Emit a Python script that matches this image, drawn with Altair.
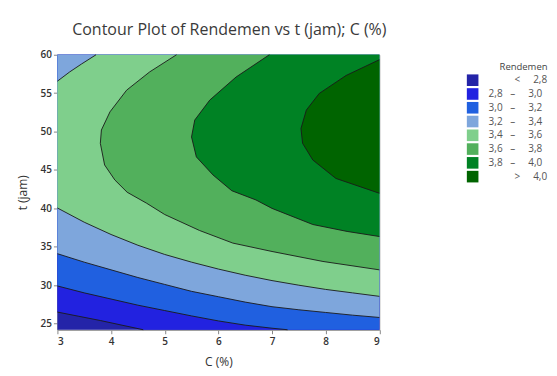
import altair as alt
import pandas as pd

# ---------------- data ----------------
C_MIN, C_MAX = 3.0, 9.0
T_MIN, T_MAX = 24.2, 60.0

NB = "\u00a0"
ZW = "\u200b"
BANDS = [
    ZW + NB * 10 + "<" + NB * 5 + "2,8",
    "2,8" + NB * 3 + "\u2013" + NB * 5 + "3,0",
    "3,0" + NB * 3 + "\u2013" + NB * 5 + "3,2",
    "3,2" + NB * 3 + "\u2013" + NB * 5 + "3,4",
    "3,4" + NB * 3 + "\u2013" + NB * 5 + "3,6",
    "3,6" + NB * 3 + "\u2013" + NB * 5 + "3,8",
    "3,8" + NB * 3 + "\u2013" + NB * 5 + "4,0",
    ZW + NB * 10 + ">" + NB * 5 + "4,0",
]
COLORS = ["#2424a8", "#2222e0", "#2060e0", "#7ea6dc",
          "#7fcf8c", "#52b05c", "#008224", "#006400"]

# contour curves (C, t), listed with increasing t
C_BG = [3.0, 3.0]
T_BG = [24.2, 60.0]

C_28 = [4.6, 3.8, 3.4, 3.0]
T_28 = [24.2, 25.4, 25.95, 26.5]

C_30 = [7.29, 7.0, 6.5, 6.0, 5.5, 5.0, 4.5, 4.0, 3.5, 3.0]
T_30 = [24.2, 24.4, 24.8, 25.35, 26.0, 26.7, 27.4, 28.2, 29.0, 29.9]

C_32 = [9.0, 8.5, 8.0, 7.5, 7.0, 6.5, 6.0, 5.5, 5.0, 4.5, 4.0, 3.5, 3.0]
T_32 = [25.8, 26.1, 26.45, 26.8, 27.2, 27.8, 28.5, 29.2, 30.1, 31.0, 32.0, 33.0, 34.1]

C_34A = [9.0, 8.5, 8.0, 7.5, 7.0, 6.5, 6.0, 5.5, 5.0, 4.5, 4.0, 3.5, 3.0]
T_34A = [28.55, 29.0, 29.45, 30.0, 30.6, 31.3, 32.1, 33.0, 34.0, 35.2, 36.6, 38.2, 40.05]
C_34B = [3.0, 3.23, 3.45, 3.72]
T_34B = [56.56, 57.77, 58.8, 60.0]

C_36 = [9.0, 7.95, 7.0, 6.27, 5.65, 5.0, 4.66, 4.3, 4.07, 3.88, 3.80, 3.82, 3.98, 4.29, 4.72, 5.22]
T_36 = [32.0, 33.09, 34.39, 35.48, 37.12, 39.2, 40.68, 42.1, 43.7, 45.65, 48.47, 50.2, 52.57, 55.39, 57.77, 60.0]

C_38 = [9.0, 8.4, 7.76, 7.0, 6.7, 6.25, 5.9, 5.59, 5.5, 5.56, 5.84, 6.33, 6.95]
T_38 = [36.34, 37.0, 37.9, 40.0, 41.1, 42.3, 44.35, 46.7, 49.3, 51.5, 54.1, 57.1, 60.0]

C_40 = [9.0, 8.19, 7.76, 7.57, 7.54, 7.64, 7.88, 8.38, 9.0]
T_40 = [41.97, 43.9, 46.3, 48.47, 50.4, 52.8, 54.96, 57.3, 59.35]

REGIONS = [
    [(C_BG, T_BG)],
    [(C_28, T_28)],
    [(C_30, T_30)],
    [(C_32, T_32)],
    [(C_34A, T_34A), (C_34B, T_34B)],
    [(C_36, T_36)],
    [(C_38, T_38)],
    [(C_40, T_40)],
]

X_TICKS = [3, 4, 5, 6, 7, 8, 9]
Y_TICKS = [25, 30, 35, 40, 45, 50, 55, 60]

# ---------------- build tables ----------------
area_rows = []
line_rows = []
cid = 0
for k, curves in enumerate(REGIONS):
    pts = []
    for cs, ts in curves:
        pts += list(zip(cs, ts))
        if k > 0:
            for i, (c, t) in enumerate(zip(cs, ts)):
                line_rows.append({"curve": cid, "i": i, "C": c, "t": t})
            cid += 1
    if pts[-1][0] == C_MIN and pts[-1][1] < T_MAX:
        pts.append((C_MIN, T_MAX))
    for c, t in pts:
        area_rows.append({"band": BANDS[k], "k": k, "C": c, "C2": C_MAX, "t": t})

areas = pd.DataFrame(area_rows)
lines = pd.DataFrame(line_rows)

FONT = "Open Sans"

xscale = alt.Scale(domain=[C_MIN, C_MAX], nice=False, zero=False)
yscale = alt.Scale(domain=[T_MIN, T_MAX], nice=False, zero=False)
cscale = alt.Scale(domain=BANDS, range=COLORS)

xaxis = alt.Axis(values=X_TICKS, format="d", title="C (%)", grid=False, tickSize=4,
                 labelPadding=3, titlePadding=10, labelOverlap=False)
yaxis = alt.Axis(values=Y_TICKS, format="d", title="t (jam)", grid=False, tickSize=4,
                 labelPadding=2, titlePadding=11, labelOverlap=False,
                 labelBound=False)

layers = []
for k in range(len(BANDS)):
    sub = areas[areas.k == k]
    layers.append(
        alt.Chart(sub).mark_area(orient="horizontal", interpolate="linear").encode(
            x=alt.X("C:Q", scale=xscale, axis=xaxis, stack=None),
            x2="C2:Q",
            y=alt.Y("t:Q", scale=yscale, axis=yaxis),
            color=alt.Color(
                "band:N", scale=cscale,
                legend=alt.Legend(
                    title="Rendemen", orient="none", legendX=410, legendY=7,
                    symbolType="square", symbolSize=135, symbolStrokeWidth=0,
                    rowPadding=1.8, labelOffset=10, titleAnchor="end",
                    titlePadding=3, titleFontSize=9.5, titleFontWeight="normal",
                    labelFontSize=10, titleColor="#444", labelColor="#555",
                    titleFont=FONT, labelFont=FONT, symbolOpacity=1,
                ),
            ),
        )
    )

contour = alt.Chart(lines).mark_line(color="#1a1a1a", strokeWidth=0.9).encode(
    x=alt.X("C:Q", scale=xscale, axis=xaxis),
    y=alt.Y("t:Q", scale=yscale, axis=yaxis),
    detail="curve:N",
    order="i:Q",
)

chart = alt.layer(*layers, contour).properties(
    width=322.5, height=275.5,
    title=alt.TitleParams("Contour Plot of Rendemen vs t (jam); C (%)",
                          fontSize=16, font=FONT, fontWeight="normal",
                          color="#3a3a3a", dx=11, offset=12),
    autosize=alt.AutoSizeParams(type="none"),
    padding={"left": 49.5, "top": 46.5, "right": 170, "bottom": 44},
).configure_view(stroke="#a0a0a0", strokeWidth=1).configure_axis(
    labelFont=FONT, titleFont=FONT, labelFontSize=10, labelColor="#333",
    labelFontWeight=600, titleFontSize=12, titleColor="#333",
    titleFontWeight="normal", tickColor="#888", domainColor="#999",
)

chart.save("out.html", embed_options={"renderer": "svg", "actions": False})
